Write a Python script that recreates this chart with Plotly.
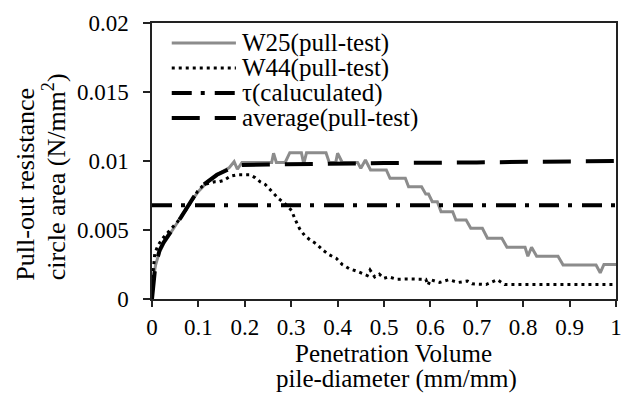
import plotly.graph_objects as go

# ---------------- data ----------------
w25_x = [0, 0.003, 0.008, 0.015, 0.025, 0.04, 0.055, 0.07, 0.085, 0.1, 0.12, 0.14, 0.155, 0.166,
         0.177, 0.184, 0.194, 0.258, 0.262, 0.268, 0.287, 0.297, 0.322, 0.327, 0.333, 0.375, 0.382,
         0.396, 0.4, 0.41, 0.443, 0.45, 0.46, 0.471, 0.505, 0.513, 0.546, 0.553, 0.581, 0.59, 0.596,
         0.604, 0.615, 0.623, 0.648, 0.655, 0.677, 0.687, 0.712, 0.723, 0.754, 0.765, 0.804, 0.81,
         0.818, 0.829, 0.875, 0.886, 0.957, 0.966, 0.974, 1.0]
w25_y = [0, 0.0016, 0.0025, 0.0033, 0.0040, 0.0048, 0.0056, 0.0063, 0.0071, 0.0078, 0.0085, 0.009,
         0.0093, 0.0095, 0.00995, 0.0094, 0.0099, 0.0099, 0.01056, 0.0099, 0.0099, 0.0106, 0.0106,
         0.0098, 0.0106, 0.0106, 0.0099, 0.0099, 0.01056, 0.0099, 0.0099, 0.00947, 0.01007, 0.00935,
         0.00935, 0.00875, 0.00875, 0.00814, 0.00814, 0.0076, 0.0076, 0.00705, 0.00705, 0.00633,
         0.00633, 0.00572, 0.00572, 0.00512, 0.00512, 0.0044, 0.0044, 0.00375, 0.00375, 0.0031,
         0.00375, 0.0031, 0.0031, 0.00246, 0.00246, 0.0019, 0.0025, 0.0025]

w44_x = [0, 0.002, 0.006, 0.013, 0.023, 0.038, 0.055, 0.07, 0.084, 0.098, 0.112, 0.126, 0.135,
         0.144, 0.155, 0.169, 0.183, 0.2, 0.211, 0.222, 0.233, 0.244, 0.258, 0.272, 0.287, 0.301,
         0.308, 0.318, 0.329, 0.34, 0.354, 0.368, 0.382, 0.397, 0.41, 0.425, 0.443, 0.455, 0.464,
         0.47, 0.48, 0.49, 0.5, 0.51, 0.528, 0.55, 0.57, 0.59, 0.595, 0.6, 0.62, 0.64, 0.66, 0.68,
         0.69, 0.7, 0.72, 0.744, 0.76, 0.8, 0.9, 1.0]
w44_y = [0, 0.0018, 0.0033, 0.0039, 0.0044, 0.005, 0.0056, 0.0063, 0.0071, 0.0078, 0.0083, 0.0084,
         0.0085, 0.0085, 0.0086, 0.0089, 0.009, 0.009, 0.009, 0.0088, 0.0085, 0.0083, 0.0078, 0.0073,
         0.0069, 0.0064, 0.0058, 0.0051, 0.0046, 0.0043, 0.0040, 0.00355, 0.0032, 0.00295, 0.0025,
         0.0022, 0.002, 0.0018, 0.0017, 0.0021, 0.0016, 0.0018, 0.0015, 0.0016, 0.00143, 0.00145,
         0.00143, 0.00143, 0.001, 0.0014, 0.0012, 0.0014, 0.0012, 0.0013, 0.0011, 0.0011, 0.00105,
         0.0014, 0.00105, 0.00105, 0.00105, 0.00105]

tau_x = [0, 1]
tau_y = [0.0068, 0.0068]

avg_x = [0, 0.003, 0.006, 0.01, 0.016, 0.025, 0.034, 0.045, 0.062, 0.075, 0.09, 0.112, 0.14,
         0.165, 0.19, 0.25, 0.35, 0.5, 0.7, 1.0]
avg_y = [0, 0.0012, 0.0020, 0.0027, 0.0035, 0.0041, 0.0046, 0.0051, 0.0059, 0.0066, 0.0074,
         0.0083, 0.0090, 0.0094, 0.0097, 0.00975, 0.0098, 0.00985, 0.0099, 0.0100]

series_names = ["W25(pull-test)", "W44(pull-test)", "τ(caluculated)", "average(pull-test)"]
x_ticks = [0, 0.1, 0.2, 0.3, 0.4, 0.5, 0.6, 0.7, 0.8, 0.9, 1]
x_tick_text = ["0", "0.1", "0.2", "0.3", "0.4", "0.5", "0.6", "0.7", "0.8", "0.9", "1"]
y_ticks = [0, 0.005, 0.01, 0.015, 0.02]
y_tick_text = ["0", "0.005", "0.01", "0.015", "0.02"]

# ---------------- styles ----------------
FONT = "Liberation Serif"
styles = [
    dict(color="#8c8c8c", width=3, dash="solid"),
    dict(color="black", width=3, dash="3px,4px"),
    dict(color="black", width=4, dash="20px,9px,4px,10px"),
    dict(color="black", width=4, dash="28px,15px"),
]

fig = go.Figure()
fig.add_trace(go.Scatter(x=w25_x, y=w25_y, mode="lines", name=series_names[0], line=styles[0]))
fig.add_trace(go.Scatter(x=avg_x, y=avg_y, mode="lines", name=series_names[3], line=styles[3]))
fig.add_trace(go.Scatter(x=tau_x, y=tau_y, mode="lines", name=series_names[2], line=styles[2]))
fig.add_trace(go.Scatter(x=w44_x, y=w44_y, mode="lines", name=series_names[1], line=styles[1]))

W, H = 629, 394
L, R, T, B = 152, 7, 23, 95
pw, ph = W - L - R, H - T - B

def px2x(px):
    return (px - L) / pw

def py2y(py):
    return (T + ph - py) / ph

# manual legend
rows_y = [43, 68, 93, 118]
for i, name in enumerate(series_names):
    yy = py2y(rows_y[i])
    st = styles[i]
    fig.add_shape(type="line", xref="paper", yref="paper",
                  x0=px2x(172), x1=px2x(237), y0=yy, y1=yy,
                  line=dict(color=st["color"], width=st["width"], dash=st["dash"]))
    fig.add_annotation(text=name, xref="paper", yref="paper", x=px2x(241), y=yy,
                       xanchor="left", yanchor="middle", showarrow=False,
                       font=dict(family=FONT, size=25, color="black"))

# axis titles (two tight lines each)
fig.add_annotation(text="Penetration Volume", xref="paper", yref="paper",
                   x=px2x(397), y=py2y(353), xanchor="center", yanchor="middle",
                   showarrow=False, font=dict(family=FONT, size=25, color="black"))
fig.add_annotation(text="pile-diameter (mm/mm)", xref="paper", yref="paper",
                   x=px2x(400), y=py2y(379), xanchor="center", yanchor="middle",
                   showarrow=False, font=dict(family=FONT, size=25, color="black"))
fig.add_annotation(text="Pull-out resistance", xref="paper", yref="paper",
                   x=px2x(24), y=py2y(184), xanchor="center", yanchor="middle",
                   textangle=-90, showarrow=False, font=dict(family=FONT, size=26, color="black"))
fig.add_annotation(text="circle area (N/mm<sup>2</sup>)", xref="paper", yref="paper",
                   x=px2x(53), y=py2y(177), xanchor="center", yanchor="middle",
                   textangle=-90, showarrow=False, font=dict(family=FONT, size=26, color="black"))

fig.update_layout(
    width=W, height=H,
    margin=dict(l=L, r=R, t=T, b=B),
    paper_bgcolor="white", plot_bgcolor="white",
    showlegend=False,
    font=dict(family=FONT, size=23, color="black"),
)
fig.update_xaxes(range=[0, 1], tickvals=x_ticks, ticktext=x_tick_text,
                 showgrid=False, zeroline=False, showline=True, mirror=True,
                 linecolor="#222", linewidth=1.5, ticks="outside", ticklen=6,
                 tickwidth=1.5, tickcolor="#222", ticklabelstandoff=1,
                 tickfont=dict(family=FONT, size=23, color="black"))
fig.update_yaxes(range=[0, 0.02], tickvals=y_ticks, ticktext=y_tick_text,
                 showgrid=False, zeroline=False, showline=True, mirror=True,
                 linecolor="#222", linewidth=1.5, ticks="outside", ticklen=7,
                 tickwidth=1.5, tickcolor="#222", ticklabelstandoff=10,
                 tickfont=dict(family=FONT, size=23, color="black"))

fig.write_html("out.html")
